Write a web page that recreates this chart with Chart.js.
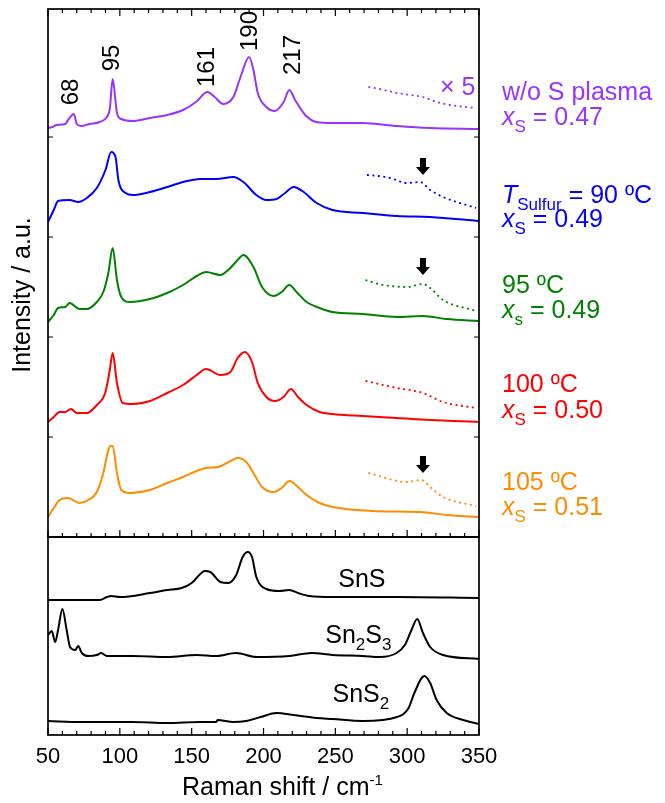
<!DOCTYPE html>
<html>
<head>
<meta charset="utf-8">
<script src="https://cdn.jsdelivr.net/npm/chart.js@4.4.1/dist/chart.umd.min.js"></script>
<style>
  body { margin: 0; background: #fff; }
  #wrap { position: relative; width: 665px; height: 803px; }
  #wrap canvas { position: absolute; left: 0; }
</style>
</head>
<body>
<div id="wrap">
  <canvas id="topPanel" width="665" height="540" style="top:0"></canvas>
  <canvas id="bottomPanel" width="665" height="273" style="top:530px"></canvas>
</div>
<script>
// --- spectra, top panel (offset intensities, a.u.) ---
const purpleShift = [50, 53, 56, 62, 64, 68, 70, 73, 79, 86, 91, 93, 95, 97, 98, 101, 109, 121, 133, 144, 153, 161, 166, 172, 179, 184, 190, 193, 196, 202, 208, 214, 218, 222, 229, 237, 248, 269, 293, 316, 350];
const purpleInt   = [409, 410, 412, 413, 417, 423, 413, 411, 413, 415, 420, 428, 458, 436, 424, 418, 416, 419, 422, 427, 435, 445, 440, 433, 440, 460, 480, 467, 444, 430, 426, 435, 447, 437, 422, 415, 414, 414, 411, 409, 408];

const blueShift = [50, 54, 57, 65, 71, 77, 84, 90, 94, 97, 99, 104, 109, 121, 133, 144, 156, 167, 179, 186, 195, 202, 209, 215, 221, 228, 237, 248, 269, 293, 316, 350];
const blueInt   = [315, 327, 336, 337, 335, 339, 349, 367, 385, 380, 357, 344, 342, 345, 350, 355, 358, 358, 360, 355, 342, 337, 338, 344, 350, 345, 334, 327, 324, 321, 320, 316];

const greenShift = [50, 54, 57, 62, 65, 72, 77, 84, 88.5, 92, 95, 98, 101, 107, 121, 133, 144, 153.5, 160, 170, 175.5, 182, 186, 193, 199, 207, 212.6, 218, 223, 230, 239, 248, 269, 293, 311, 327.5, 350];
const greenInt   = [215, 222, 229, 230, 234, 228, 228, 235, 245, 264, 289, 257, 240, 235, 238, 244, 252, 261, 265, 262, 267, 277, 282, 270, 250, 241, 245, 252, 245, 235, 229, 225, 223, 220, 221, 218, 216];

const redShift = [50, 54, 58, 62, 66, 70, 77, 84, 90, 93, 95, 98, 102, 109, 121, 133, 144, 153.5, 160, 170, 177, 182, 187, 192, 196, 202, 208, 214, 219, 224, 230, 239, 248, 269, 293, 316, 350];
const redInt   = [115, 120, 125, 125, 128, 124, 124, 132, 145, 167, 184, 154, 134, 133, 136, 144, 152, 162, 168, 162, 165, 179, 185, 175, 154, 140, 136, 140, 148, 140, 132, 125, 123, 121, 119, 117, 115];

const orangeShift = [50, 54, 58, 64, 72, 78, 84, 88.5, 92, 93.5, 95, 98, 101, 107, 121, 133, 144, 153.5, 160, 168.5, 177, 182, 188, 193, 199, 207, 212.6, 218, 224, 230, 239, 248, 276, 309, 327.5, 350];
const orangeInt   = [20, 29, 37, 39, 34, 37, 45, 64, 87, 91, 91, 64, 47, 44, 47, 54, 60, 66, 69, 70, 76, 79, 75, 64, 50, 45, 49, 56, 50, 42, 34, 30, 26, 25, 22, 20];

// x5 magnified tails (dotted)
const purpleDotShift = [273, 281, 293, 302, 311, 320.5, 330, 348];
const purpleDotInt   = [450, 448, 444, 442, 440, 435, 432, 429];
const blueDotShift = [272, 280, 288, 300, 309, 316, 325, 348];
const blueDotInt   = [362, 361, 359, 354, 355, 347, 340, 329];
const greenDotShift = [271, 280, 288, 300, 311, 316, 325, 348];
const greenDotInt   = [257, 253, 251, 250, 253, 249, 237, 226];
const redDotShift = [271, 293, 311, 325, 348];
const redDotInt   = [156, 149, 144, 135, 129];
const orangeDotShift = [273, 300, 310, 316, 325, 348];
const orangeDotInt   = [64, 55, 57, 50, 40, 31];

// --- reference spectra, bottom panel ---
const snsShift = [50, 86, 91, 94, 100, 121, 133, 143, 150, 156, 159, 163, 170, 175.5, 181, 185.5, 189, 192, 195, 202, 211, 218, 224, 232, 248, 293, 350];
const snsInt   = [135, 135, 138, 139, 138, 142, 145, 147, 152, 161, 164, 163, 153, 152, 160, 178, 183, 178, 158, 146, 144, 145, 142, 139, 138, 138, 137];
const sn2s3Shift = [50, 52.6, 55, 57, 60, 63, 65.3, 69, 71, 73.5, 78, 84, 87, 91, 109, 133, 153.5, 167, 181, 195, 218, 233.5, 248, 269, 281, 292.6, 298.4, 303, 307, 311, 316, 325, 350];
const sn2s3Int   = [100, 104, 93, 105, 126, 105, 88, 85, 89, 82, 79, 80, 82, 79, 79, 78, 80, 79, 82, 78, 79, 82, 80, 79, 78, 82, 90, 105, 116, 102, 88, 80, 76];
const sns2Shift = [50, 73, 109, 133, 156, 167, 168, 179, 188, 198, 209, 221, 237, 248, 269, 293, 301, 305, 312, 316, 320.5, 327.5, 339, 350];
const sns2Int   = [14, 13, 13, 12, 13, 13, 15, 13, 14, 18, 22, 20, 17, 16, 14, 18, 27, 42, 59, 52, 35, 22, 15, 11];

// annotations
const peakLabels = ['68', '95', '161', '190', '217'];
const peakLabelX = [66, 95, 161, 191, 221];
const peakLabelY = [445, 479, 470, 506, 482];
const arrowShift = [311, 311, 311];
const arrowTip = [362, 262, 64];
const phaseX = [252, 243, 248];
const phaseY = [148, 92, 33];

const colors = ['#9933FF', '#0000FF', '#008000', '#FF0000', '#FF8C00'];
const FONT = '"Liberation Sans", Arial, sans-serif';

const pts = (xs, ys) => xs.map((v, i) => ({ x: v, y: ys[i] }));

function line(xs, ys, color, dotted) {
  return {
    data: pts(xs, ys),
    borderColor: color,
    borderWidth: dotted ? 1.8 : 2,
    borderDash: dotted ? [2, 3.5] : [],
    pointRadius: 0,
    cubicInterpolationMode: 'monotone',
    fill: false
  };
}

// draws a run of text pieces (italic, subscripts, superscripts)
function richText(ctx, x, y, parts, color, size) {
  size = size || 25;
  ctx.fillStyle = color;
  ctx.textAlign = 'left';
  ctx.textBaseline = 'alphabetic';
  parts.forEach(p => {
    const s = p.sub ? Math.round(size * 0.68) : p.sup ? Math.round(size * 0.6) : size;
    ctx.font = (p.it ? 'italic ' : '') + s + 'px ' + FONT;
    const dy = p.sub ? size * 0.26 : p.sup ? -size * 0.42 : 0;
    ctx.fillText(p.t, x, y + dy);
    x += ctx.measureText(p.t).width;
  });
}

// box frame with inward ticks
const frame = {
  id: 'frame',
  afterDraw(chart, args, opts) {
    const { ctx, chartArea: a, scales: { x, y } } = chart;
    ctx.save();
    ctx.strokeStyle = '#000';
    ctx.lineWidth = 1.2;
    ctx.beginPath();
    for (let v = 50; v <= 350; v += 10) {
      const px = x.getPixelForValue(v);
      const len = v % 50 === 0 ? 7 : 4;
      if (opts.topTicks) { ctx.moveTo(px, a.top); ctx.lineTo(px, a.top + len); }
      ctx.moveTo(px, a.bottom); ctx.lineTo(px, a.bottom - len);
    }
    (opts.yTicks || []).forEach(v => {
      const py = y.getPixelForValue(v);
      ctx.moveTo(a.left, py); ctx.lineTo(a.left + 5, py);
      ctx.moveTo(a.right, py); ctx.lineTo(a.right - 5, py);
    });
    ctx.stroke();
    ctx.lineWidth = 1.7;
    ctx.strokeRect(a.left, a.top, a.right - a.left, a.bottom - a.top);
    ctx.restore();
  }
};

const topLabels = {
  id: 'topLabels',
  afterDraw(chart) {
    const { ctx, scales: { x, y } } = chart;
    ctx.save();
    // peak positions
    ctx.fillStyle = '#000';
    ctx.font = '24px ' + FONT;
    ctx.textAlign = 'center';
    ctx.textBaseline = 'middle';
    peakLabels.forEach((t, i) => {
      ctx.save();
      ctx.translate(x.getPixelForValue(peakLabelX[i]), y.getPixelForValue(peakLabelY[i]));
      ctx.rotate(-Math.PI / 2);
      ctx.fillText(t, 0, 0);
      ctx.restore();
    });
    // y title
    ctx.save();
    ctx.translate(23, 295);
    ctx.rotate(-Math.PI / 2);
    ctx.font = '25px ' + FONT;
    ctx.fillText('Intensity / a.u.', 0, 0);
    ctx.restore();
    // arrows marking the SnS2-like shoulder
    ctx.fillStyle = '#000';
    arrowShift.forEach((s, i) => {
      const cx = x.getPixelForValue(s), ty = y.getPixelForValue(arrowTip[i]);
      ctx.beginPath();
      ctx.moveTo(cx - 3, ty - 17);
      ctx.lineTo(cx + 3, ty - 17);
      ctx.lineTo(cx + 3, ty - 8);
      ctx.lineTo(cx + 7, ty - 8);
      ctx.lineTo(cx, ty);
      ctx.lineTo(cx - 7, ty - 8);
      ctx.lineTo(cx - 3, ty - 8);
      ctx.closePath();
      ctx.fill();
    });
    richText(ctx, x.getPixelForValue(322.8), y.getPixelForValue(442), [{ t: '× 5' }], colors[0], 25);
    // sample labels
    const L = 502;
    richText(ctx, L, 100, [{ t: 'w/o S plasma' }], colors[0]);
    richText(ctx, L, 125, [{ t: 'x', it: true }, { t: 'S', sub: true }, { t: ' = 0.47' }], colors[0]);
    richText(ctx, L, 203, [{ t: 'T', it: true }, { t: 'Sulfur', sub: true }, { t: ' = 90 ºC' }], colors[1]);
    richText(ctx, L, 227, [{ t: 'x', it: true }, { t: 'S', sub: true }, { t: ' = 0.49' }], colors[1]);
    richText(ctx, L, 293, [{ t: '95 ºC' }], colors[2]);
    richText(ctx, L, 318, [{ t: 'x', it: true }, { t: 's', sub: true }, { t: ' = 0.49' }], colors[2]);
    richText(ctx, L, 392, [{ t: '100 ºC' }], colors[3]);
    richText(ctx, L, 418, [{ t: 'x', it: true }, { t: 'S', sub: true }, { t: ' = 0.50' }], colors[3]);
    richText(ctx, L, 490, [{ t: '105 ºC' }], colors[4]);
    richText(ctx, L, 515, [{ t: 'x', it: true }, { t: 'S', sub: true }, { t: ' = 0.51' }], colors[4]);
    ctx.restore();
  }
};

const bottomLabels = {
  id: 'bottomLabels',
  afterDraw(chart) {
    const { ctx, scales: { x, y } } = chart;
    ctx.save();
    const names = [
      [{ t: 'SnS' }],
      [{ t: 'Sn' }, { t: '2', sub: true }, { t: 'S' }, { t: '3', sub: true }],
      [{ t: 'SnS' }, { t: '2', sub: true }]
    ];
    names.forEach((parts, i) => richText(ctx, x.getPixelForValue(phaseX[i]), y.getPixelForValue(phaseY[i]), parts, '#000'));
    richText(ctx, 182, 265, [{ t: 'Raman shift / cm' }, { t: '-1', sup: true }], '#000');
    ctx.restore();
  }
};

const xBase = { type: 'linear', min: 50, max: 350, display: false };

new Chart(document.getElementById('topPanel'), {
  type: 'line',
  data: {
    datasets: [
      line(purpleShift, purpleInt, colors[0]),
      line(blueShift, blueInt, colors[1]),
      line(greenShift, greenInt, colors[2]),
      line(redShift, redInt, colors[3]),
      line(orangeShift, orangeInt, colors[4]),
      line(purpleDotShift, purpleDotInt, colors[0], true),
      line(blueDotShift, blueDotInt, colors[1], true),
      line(greenDotShift, greenDotInt, colors[2], true),
      line(redDotShift, redDotInt, colors[3], true),
      line(orangeDotShift, orangeDotInt, colors[4], true)
    ]
  },
  options: {
    responsive: false,
    animation: false,
    layout: { padding: { left: 48, right: 186, top: 9, bottom: 3 } },
    scales: {
      x: xBase,
      y: { min: 0, max: 528, display: false }
    },
    plugins: {
      legend: { display: false },
      tooltip: { enabled: false },
      frame: { topTicks: true, yTicks: [100, 200, 300, 400] }
    }
  },
  plugins: [frame, topLabels]
});

new Chart(document.getElementById('bottomPanel'), {
  type: 'line',
  data: {
    datasets: [
      line(snsShift, snsInt, '#000'),
      line(sn2s3Shift, sn2s3Int, '#000'),
      line(sns2Shift, sns2Int, '#000')
    ]
  },
  options: {
    responsive: false,
    animation: false,
    layout: { padding: { left: 48, right: 186, top: 7, bottom: 0 } },
    scales: {
      x: {
        type: 'linear', min: 50, max: 350,
        grid: { display: false },
        border: { display: false },
        ticks: { stepSize: 50, padding: 1, color: '#000', font: { family: FONT, size: 22 } },
        afterFit(scale) { scale.height = 68; }
      },
      y: { min: 0, max: 198, display: false }
    },
    plugins: {
      legend: { display: false },
      tooltip: { enabled: false },
      frame: { topTicks: false }
    }
  },
  plugins: [frame, bottomLabels]
});
</script>
</body>
</html>
